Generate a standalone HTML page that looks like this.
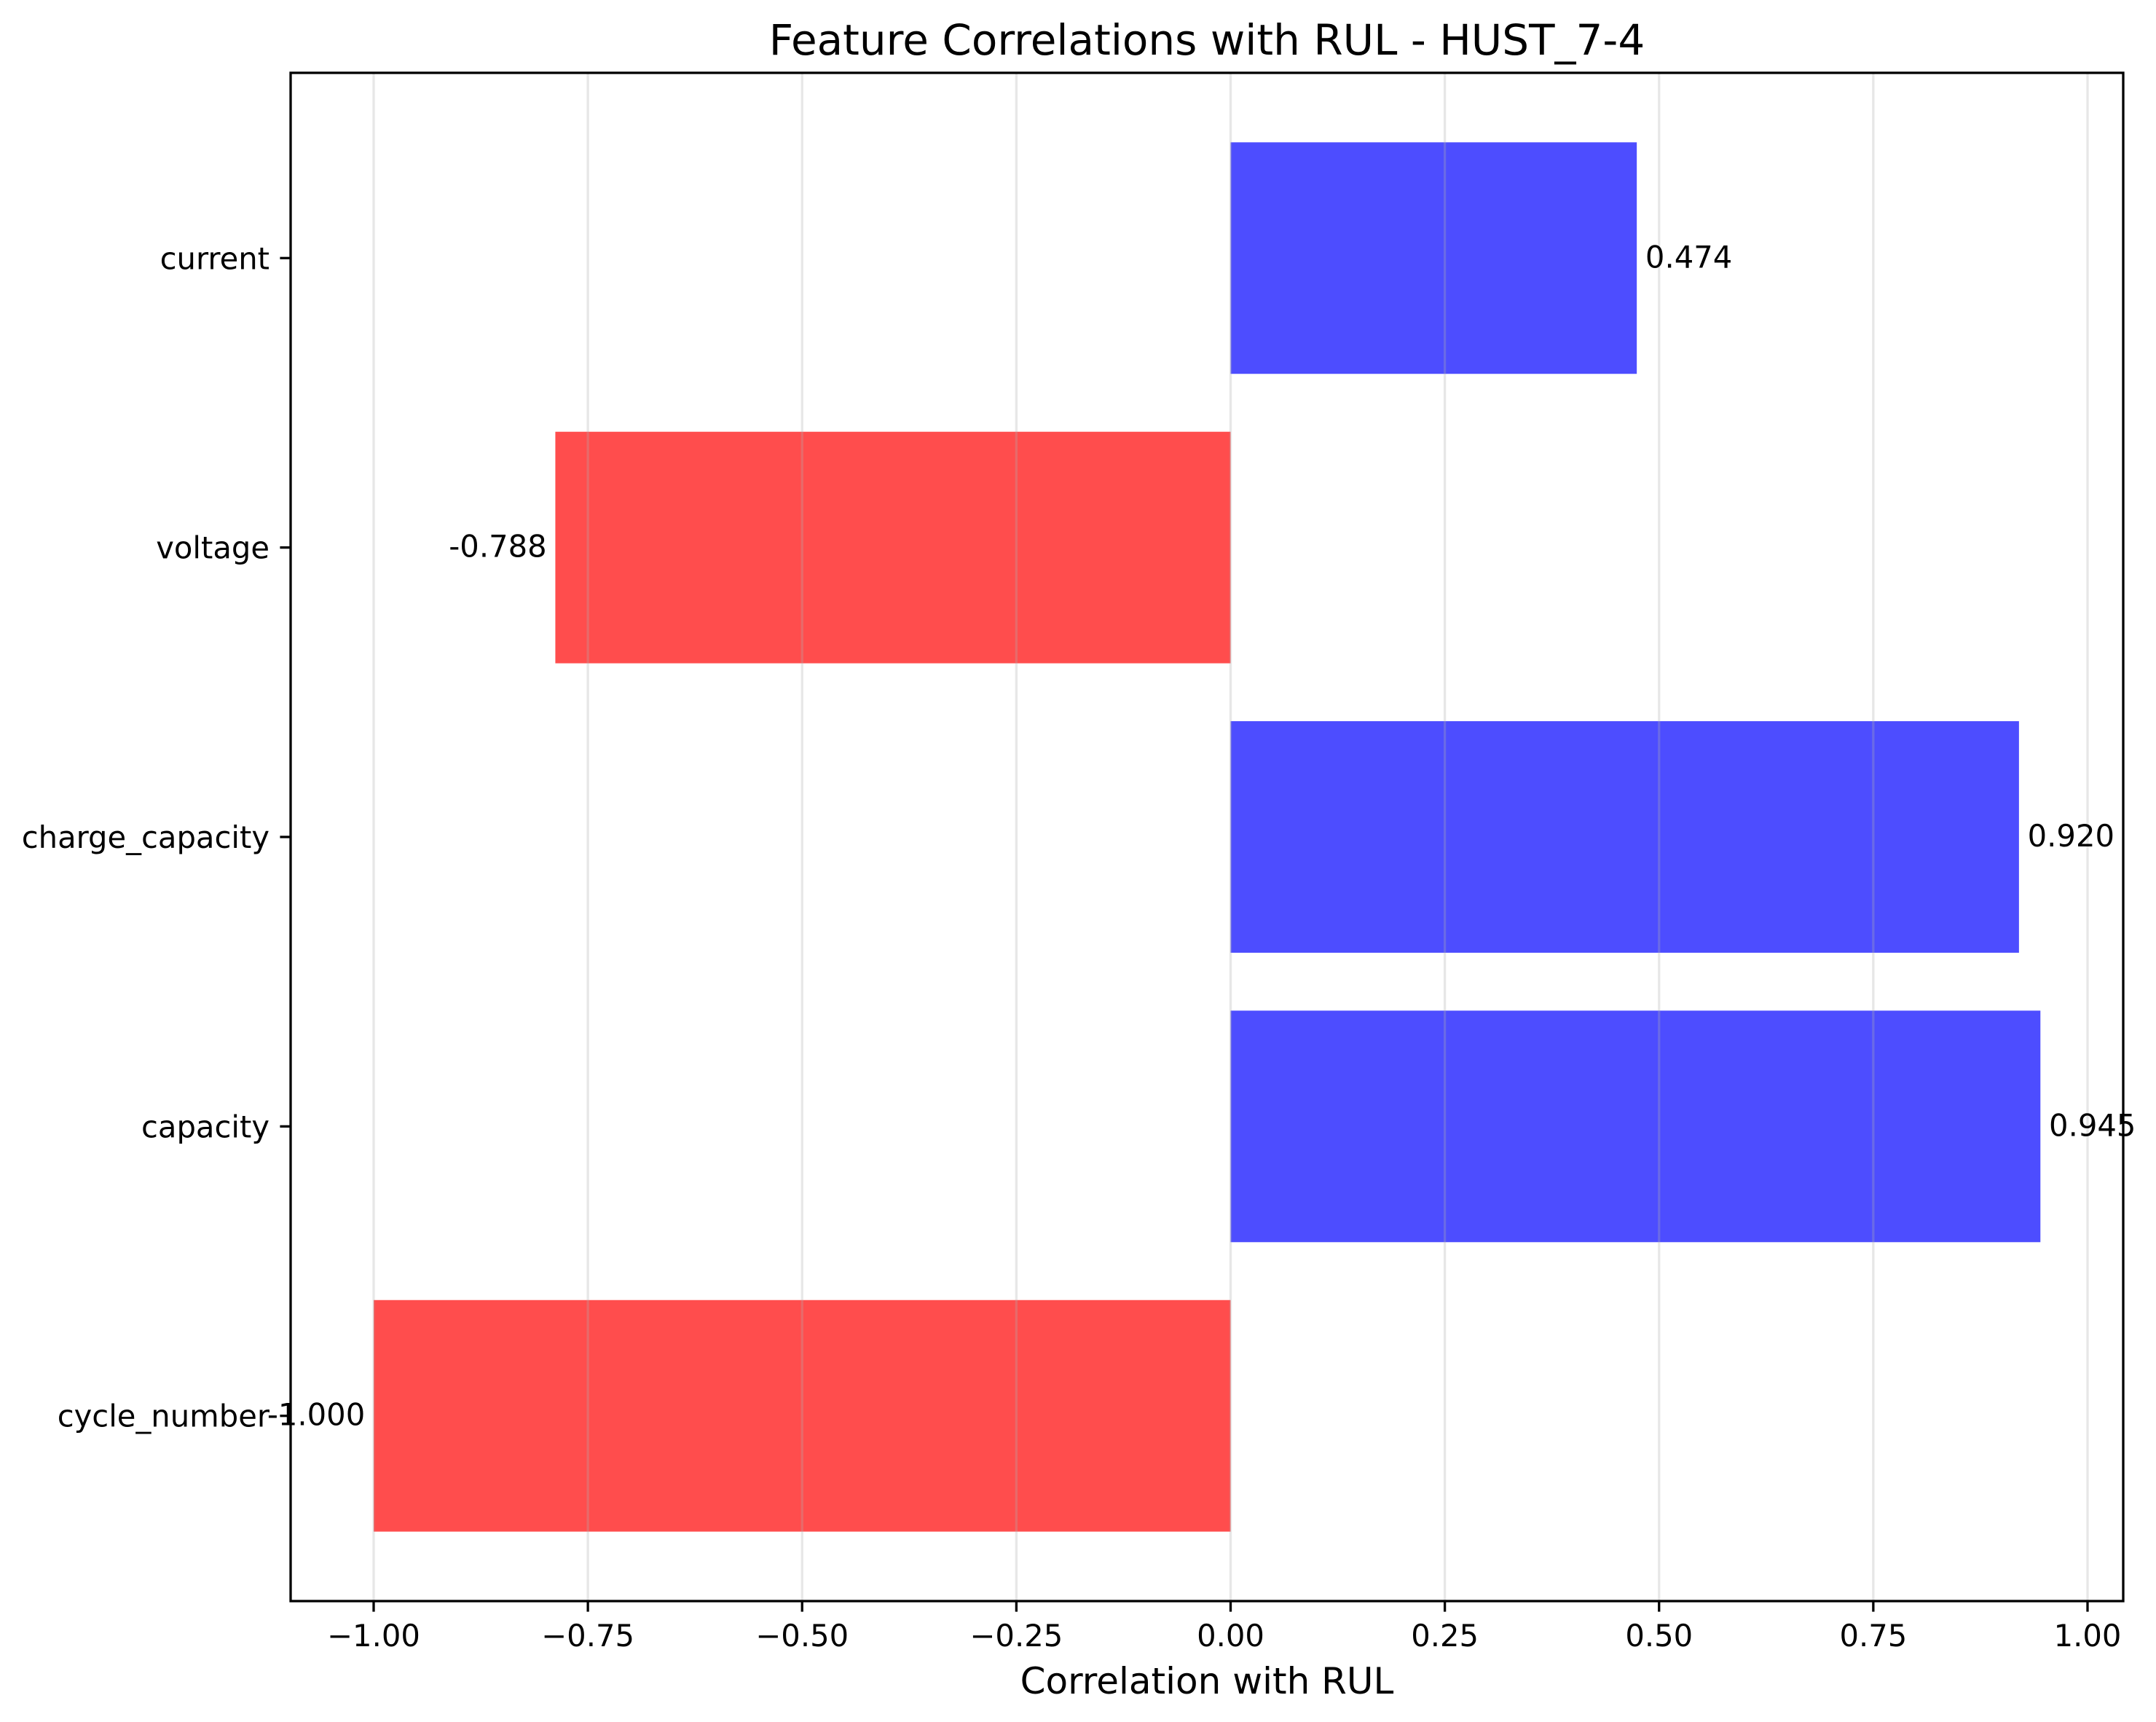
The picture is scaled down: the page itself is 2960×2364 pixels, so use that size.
<!DOCTYPE html>
<html><head><meta charset="utf-8">
<style>html,body{margin:0;padding:0;background:#fff;}svg{display:block;font-family:"DejaVu Sans","Liberation Sans",sans-serif;}</style>
</head><body>
<svg id="chart" width="2960" height="2364" viewBox="0 0 2960 2364" xmlns="http://www.w3.org/2000/svg">
<rect width="2960" height="2364" fill="#fff"/>
<g id="bars"></g>
<g id="grid"></g>
<g id="labels"></g>
<g id="axes"></g>
<text x="1657" y="75" font-size="58" text-anchor="middle" fill="#000">Feature Correlations with RUL - HUST_7-4</text>
<text x="1657" y="2325" font-size="50" text-anchor="middle" fill="#000">Correlation with RUL</text>
</svg>
<script>
const categories = ["cycle_number","capacity","charge_capacity","voltage","current"];
const values = [-1.000, 0.945, 0.920, -0.788, 0.474];
const xTicks = [-1.00,-0.75,-0.50,-0.25,0.00,0.25,0.50,0.75,1.00];
const xTickLabels = ["\u22121.00","\u22120.75","\u22120.50","\u22120.25","0.00","0.25","0.50","0.75","1.00"];

const NS="http://www.w3.org/2000/svg";
const L=399,R=2915,T=100,B=2198;
const X0=1689.5,XU=1176.5;
const xs=v=>X0+v*XU;
const y0=-0.64,y1=4.64;
const ys=v=>B-(v-y0)/(y1-y0)*(B-T);
function mk(tag,attrs,parent,text){const e=document.createElementNS(NS,tag);for(const k in attrs)e.setAttribute(k,attrs[k]);if(text!==undefined)e.textContent=text;parent.appendChild(e);return e;}
const gb=document.getElementById('bars'),gg=document.getElementById('grid'),gl=document.getElementById('labels'),ga=document.getElementById('axes');
values.forEach((v,i)=>{
  const xa=xs(Math.min(0,v)),xb=xs(Math.max(0,v));
  const r=mk('rect',{x:xa,y:ys(i+0.4),width:xb-xa,height:ys(i-0.4)-ys(i+0.4),fill:v<0?'#ff4d4d':'#4d4dff'},gb);
  
  
  const t=mk('text',{x:v<0?xs(v-0.01):xs(v+0.01),y:ys(i)+13,'font-size':41.7,'text-anchor':v<0?'end':'start',fill:'#000'},gl,v.toFixed(3));
  
  
  const c=mk('text',{x:L-29,y:ys(i)+15,'font-size':41.7,'text-anchor':'end',fill:'#000'},ga,categories[i]);
  
  
  mk('line',{x1:L-14.6,x2:L,y1:ys(i),y2:ys(i),stroke:'#000','stroke-width':3.3},ga);
});
xTicks.forEach((v,i)=>{
  const g=mk('line',{x1:xs(v),x2:xs(v),y1:T,y2:B,stroke:'#b0b0b0','stroke-opacity':0.3,'stroke-width':3.3},gg);
  
  
  mk('line',{x1:xs(v),x2:xs(v),y1:B,y2:B+14.6,stroke:'#000','stroke-width':3.3},ga);
  const t=mk('text',{x:xs(v),y:2260,'font-size':41.7,'text-anchor':'middle',fill:'#000'},ga,xTickLabels[i]);
  
  
});
const f=mk('rect',{x:L,y:T,width:R-L,height:B-T,fill:'none',stroke:'#000','stroke-width':3.3},ga);


</script>
</body></html>
